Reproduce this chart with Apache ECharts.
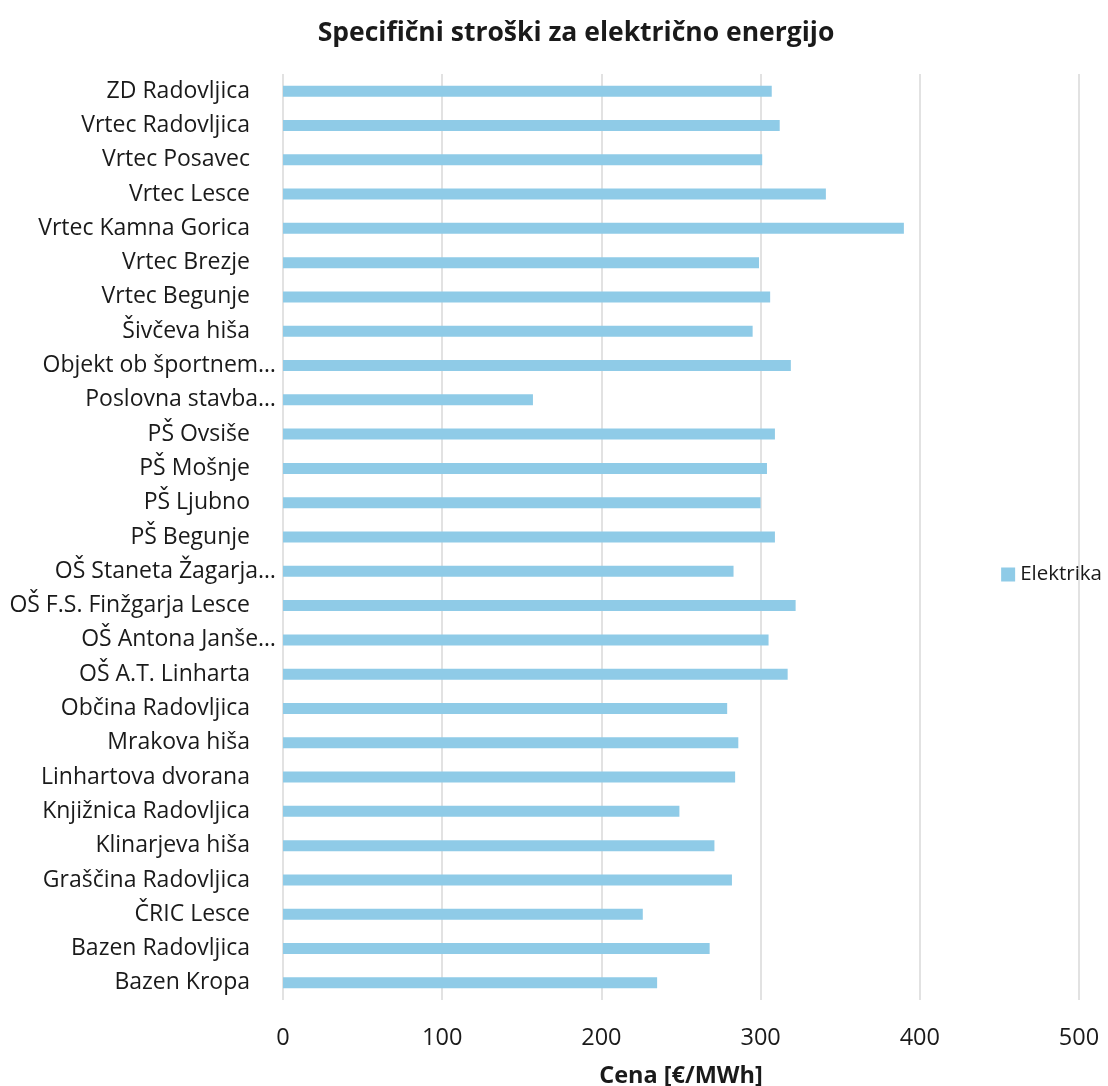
<!DOCTYPE html>
<html>
<head>
<meta charset="utf-8">
<script src="https://cdn.jsdelivr.net/npm/echarts@6/dist/echarts.min.js"></script>
<style>html,body{margin:0;padding:0;background:#fff}#c{width:1108px;height:1086px}</style>
</head>
<body>
<div id="c"></div>
<script>
// categories listed bottom to top (as in category axis order)
const categories = [
  "Bazen Kropa", "Bazen Radovljica", "ČRIC Lesce", "Graščina Radovljica",
  "Klinarjeva hiša", "Knjižnica Radovljica", "Linhartova dvorana", "Mrakova hiša",
  "Občina Radovljica", "OŠ A.T. Linharta", "OŠ Antona Janše…", "OŠ F.S. Finžgarja Lesce",
  "OŠ Staneta Žagarja…", "PŠ Begunje", "PŠ Ljubno", "PŠ Mošnje", "PŠ Ovsiše",
  "Poslovna stavba…", "Objekt ob športnem…", "Šivčeva hiša", "Vrtec Begunje",
  "Vrtec Brezje", "Vrtec Kamna Gorica", "Vrtec Lesce", "Vrtec Posavec",
  "Vrtec Radovljica", "ZD Radovljica"
];
const elektrika = [
  235, 268, 226, 282,
  271, 249, 284, 286,
  279, 317, 305, 322,
  283, 309, 300, 304, 309,
  157, 319, 295, 306,
  299, 390, 341, 301,
  312, 307
];
const xTicks = [0, 100, 200, 300, 400, 500];

const chart = echarts.init(document.getElementById('c'), null, {renderer: 'canvas'});
const FONT = '"Open Sans", sans-serif';
const TXT = '#1a1a1a';
chart.setOption({
  animation: false,
  title: {
    text: 'Specifični stroški za električno energijo',
    left: 571, top: 15, textAlign: 'center',
    textStyle: {fontFamily: FONT, fontSize: 26.5, fontWeight: 'bold', color: TXT}
  },
  legend: {
    data: ['Elektrika'],
    right: 1, top: 559, orient: 'vertical',
    icon: 'rect', itemWidth: 14, itemHeight: 14, itemGap: 6,
    textStyle: {fontFamily: FONT, fontSize: 20.5, color: TXT}
  },
  grid: {left: 283, right: 29, top: 74, bottom: 86, containLabel: false, outerBoundsMode: 'none'},
  xAxis: {
    type: 'value', min: xTicks[0], max: xTicks[xTicks.length - 1], interval: 100,
    name: 'Cena [€/MWh]', nameLocation: 'middle', nameGap: 64,
    nameTextStyle: {fontFamily: FONT, fontSize: 23.5, fontWeight: 'bold', color: TXT},
    axisLine: {show: false}, axisTick: {show: false},
    axisLabel: {fontFamily: FONT, fontSize: 23.5, color: TXT, margin: 26},
    splitLine: {show: true, lineStyle: {color: '#d9d9d9', width: 1.5}}
  },
  yAxis: {
    type: 'category', data: categories,
    axisLine: {show: false}, axisTick: {show: false},
    axisLabel: {
      margin: 7, fontFamily: FONT, fontSize: 23, color: TXT,
      formatter: v => v.endsWith('…') ? '{e|' + v + '}' : '{n|' + v + '}',
      rich: {
        e: {fontFamily: FONT, fontSize: 23, color: TXT},
        n: {fontFamily: FONT, fontSize: 23, color: TXT, padding: [0, 26, 0, 0]}
      }
    }
  },
  series: [{
    name: 'Elektrika', type: 'bar', data: elektrika, barWidth: 11,
    itemStyle: {color: '#8fcbe7'}
  }]
});
</script>
</body>
</html>
